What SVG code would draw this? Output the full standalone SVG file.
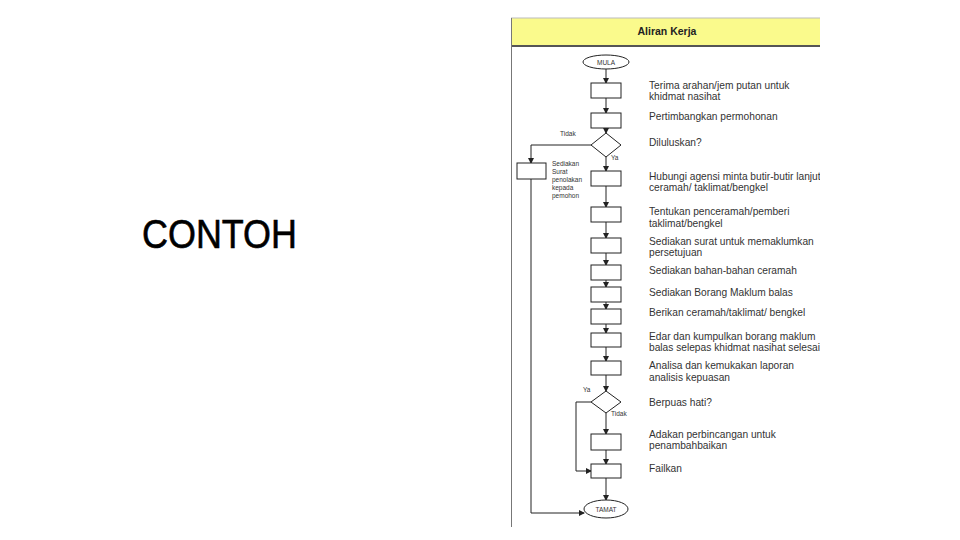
<svg xmlns="http://www.w3.org/2000/svg" width="960" height="540" viewBox="0 0 960 540">
<style>
.box{fill:#fff;stroke:#222;stroke-width:1}
.ln{fill:none;stroke:#222;stroke-width:1}
.lbl{font-family:"Liberation Sans",Arial,sans-serif;font-size:10.2px;fill:#333}
.sm{font-family:"Liberation Sans",Arial,sans-serif;font-size:6.5px;fill:#333}
</style>
<defs>
<marker id="ar" markerWidth="6" markerHeight="6" refX="5" refY="3" orient="auto" markerUnits="userSpaceOnUse">
<path d="M0,0 L6,3 L0,6 Z" fill="#222"/>
</marker>
<clipPath id="cp"><rect x="505" y="0" width="315" height="540"/></clipPath>
</defs>
<rect width="960" height="540" fill="#fff"/>
<text x="142" y="248" font-family="'Liberation Sans',Arial,sans-serif" font-size="41" fill="#000" stroke="#000" stroke-width="0.6" textLength="155" lengthAdjust="spacingAndGlyphs">CONTOH</text>

<g id="panel">
<rect x="511" y="18" width="309" height="27" fill="#fafa8c"/>
<line x1="511" y1="18" x2="820" y2="18" stroke="#bbb" stroke-width="1"/>
<line x1="511" y1="46" x2="820" y2="46" stroke="#555" stroke-width="2"/>
<line x1="511.5" y1="18" x2="511.5" y2="527" stroke="#777" stroke-width="1"/>
<text x="667" y="35" text-anchor="middle" font-family="'Liberation Sans',Arial,sans-serif" font-size="10.5" font-weight="bold" fill="#222">Aliran Kerja</text>
</g>

<g id="connectors">
<line class="ln" x1="606" y1="69" x2="606" y2="83" marker-end="url(#ar)"/>
<line class="ln" x1="606" y1="98" x2="606" y2="113" marker-end="url(#ar)"/>
<line class="ln" x1="606" y1="128" x2="606" y2="133" marker-end="url(#ar)"/>
<line class="ln" x1="606" y1="157" x2="606" y2="171" marker-end="url(#ar)"/>
<polyline class="ln" points="591,145 531,145 531,163" marker-end="url(#ar)"/>
<polyline class="ln" points="531,179 531,513 584,513" marker-end="url(#ar)"/>
<line class="ln" x1="606" y1="186" x2="606" y2="207" marker-end="url(#ar)"/>
<line class="ln" x1="606" y1="222" x2="606" y2="238" marker-end="url(#ar)"/>
<line class="ln" x1="606" y1="253" x2="606" y2="265" marker-end="url(#ar)"/>
<line class="ln" x1="606" y1="280" x2="606" y2="287" marker-end="url(#ar)"/>
<line class="ln" x1="606" y1="302" x2="606" y2="309" marker-end="url(#ar)"/>
<line class="ln" x1="606" y1="324" x2="606" y2="333" marker-end="url(#ar)"/>
<line class="ln" x1="606" y1="347" x2="606" y2="361" marker-end="url(#ar)"/>
<line class="ln" x1="606" y1="375" x2="606" y2="391" marker-end="url(#ar)"/>
<line class="ln" x1="606" y1="413" x2="606" y2="434" marker-end="url(#ar)"/>
<line class="ln" x1="606" y1="450" x2="606" y2="464" marker-end="url(#ar)"/>
<polyline class="ln" points="591,402 576,402 576,471 591,471" marker-end="url(#ar)"/>
<line class="ln" x1="606" y1="478" x2="606" y2="500" marker-end="url(#ar)"/>
<text class="sm" x="560" y="136">Tidak</text>
<text class="sm" x="611" y="160">Ya</text>
<text class="sm" x="583" y="392">Ya</text>
<text class="sm" x="611" y="416">Tidak</text>
</g>

<g id="mula"><ellipse class="box" cx="606" cy="62" rx="23" ry="7"/><text class="sm" x="606" y="64.5" text-anchor="middle">MULA</text></g>
<g id="n1"><rect class="box" x="591" y="83" width="30" height="15"/></g>
<g id="n2"><rect class="box" x="591" y="113" width="30" height="15"/></g>
<g id="d1"><polygon class="box" points="606,133 621,145 606,157 591,145"/></g>
<g id="nL"><rect class="box" x="517" y="163" width="29" height="16"/>
<text class="sm" x="552" y="166">Sediakan</text><text class="sm" x="552" y="174">Surat</text><text class="sm" x="552" y="182">penolakan</text><text class="sm" x="552" y="190">kepada</text><text class="sm" x="552" y="198">pemohon</text></g>
<g id="n3"><rect class="box" x="591" y="171" width="30" height="15"/></g>
<g id="n4"><rect class="box" x="591" y="207" width="30" height="15"/></g>
<g id="n5"><rect class="box" x="591" y="238" width="30" height="15"/></g>
<g id="n6"><rect class="box" x="591" y="265" width="30" height="15"/></g>
<g id="n7"><rect class="box" x="591" y="287" width="30" height="15"/></g>
<g id="n8"><rect class="box" x="591" y="309" width="30" height="15"/></g>
<g id="n9"><rect class="box" x="591" y="333" width="30" height="14"/></g>
<g id="n10"><rect class="box" x="591" y="361" width="30" height="14"/></g>
<g id="d2"><polygon class="box" points="606,391 621,402 606,413 591,402"/></g>
<g id="n11"><rect class="box" x="591" y="434" width="30" height="16"/></g>
<g id="n12"><rect class="box" x="591" y="464" width="30" height="14"/></g>
<g id="tamat"><ellipse class="box" cx="606" cy="509" rx="22" ry="9"/><text class="sm" x="606" y="511.5" text-anchor="middle">TAMAT</text></g>

<g id="labels" clip-path="url(#cp)">
<text class="lbl" x="649" y="89">Terima arahan/jem putan untuk</text>
<text class="lbl" x="649" y="100">khidmat nasihat</text>
<text class="lbl" x="649" y="120">Pertimbangkan permohonan</text>
<text class="lbl" x="649" y="146">Diluluskan?</text>
<text class="lbl" x="649" y="180">Hubungi agensi minta butir-butir lanjut</text>
<text class="lbl" x="649" y="191">ceramah/ taklimat/bengkel</text>
<text class="lbl" x="649" y="215">Tentukan penceramah/pemberi</text>
<text class="lbl" x="649" y="227">taklimat/bengkel</text>
<text class="lbl" x="649" y="245">Sediakan surat untuk memaklumkan</text>
<text class="lbl" x="649" y="256">persetujuan</text>
<text class="lbl" x="649" y="274">Sediakan bahan-bahan ceramah</text>
<text class="lbl" x="649" y="296">Sediakan Borang Maklum balas</text>
<text class="lbl" x="649" y="316">Berikan ceramah/taklimat/ bengkel</text>
<text class="lbl" x="649" y="340">Edar dan kumpulkan borang maklum</text>
<text class="lbl" x="649" y="351">balas selepas khidmat nasihat selesai</text>
<text class="lbl" x="649" y="369">Analisa dan kemukakan laporan</text>
<text class="lbl" x="649" y="381">analisis kepuasan</text>
<text class="lbl" x="649" y="406">Berpuas hati?</text>
<text class="lbl" x="649" y="438">Adakan perbincangan untuk</text>
<text class="lbl" x="649" y="449">penambahbaikan</text>
<text class="lbl" x="649" y="472">Failkan</text>
</g>
</svg>
